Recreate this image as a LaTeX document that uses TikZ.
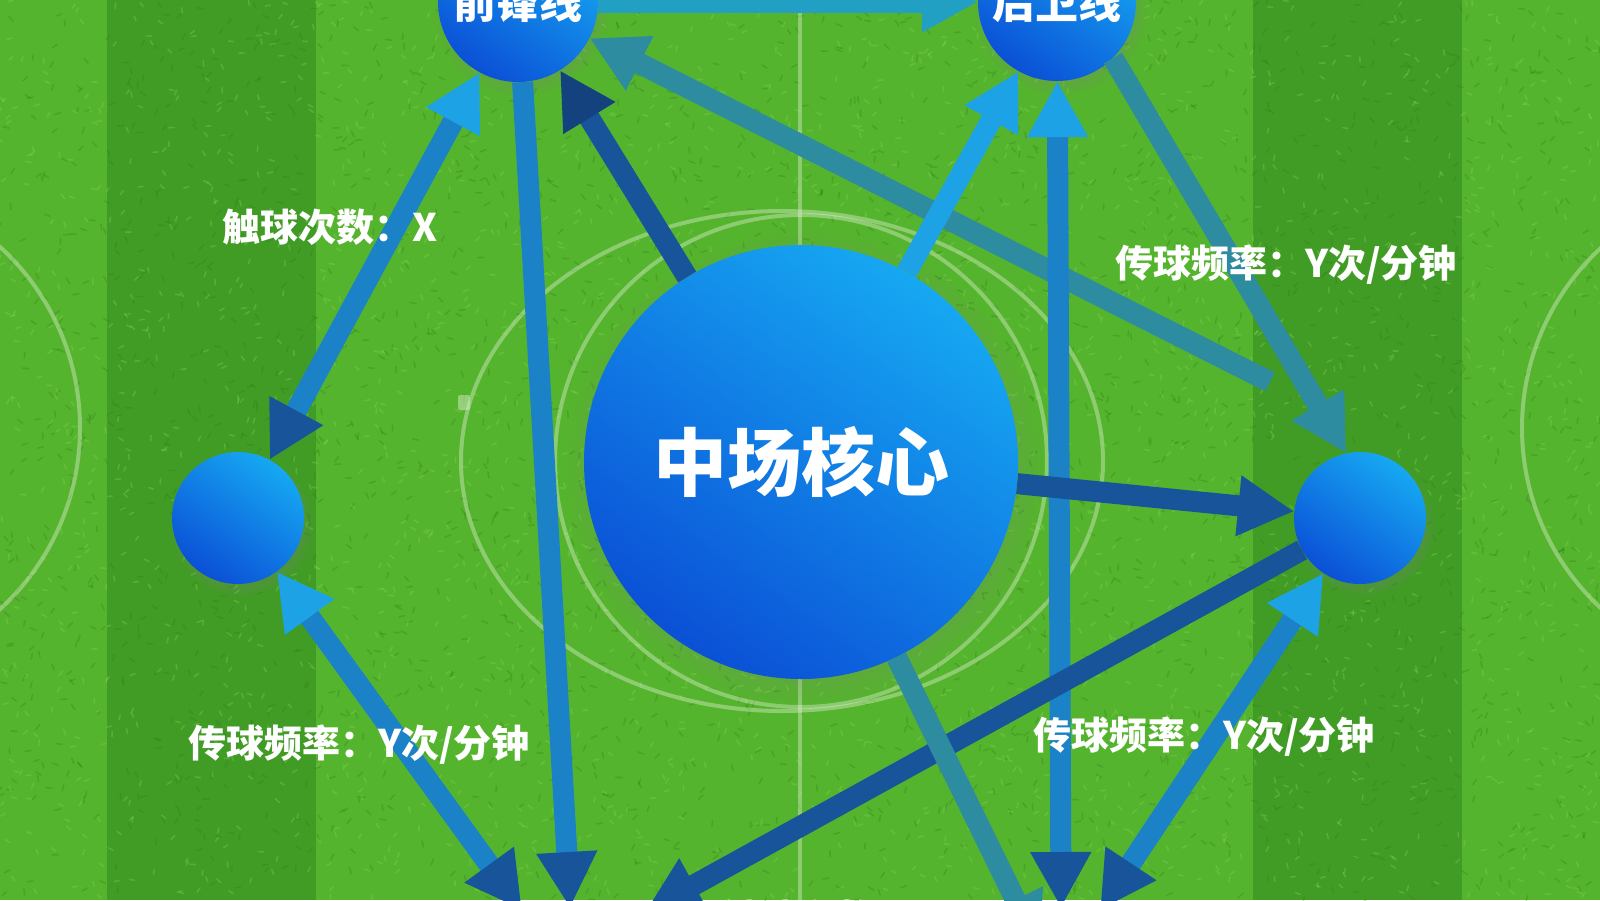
\documentclass[tikz,border=0pt]{standalone}
\usepackage{fontspec}
\newfontfamily\cjk{Noto Sans CJK SC}
\usetikzlibrary{arrows.meta,shadows}
\definecolor{grassLight}{HTML}{55B42D}
\definecolor{grassDark}{HTML}{419C25}
\definecolor{bladeDark}{HTML}{2E7A18}
\definecolor{bladeLight}{HTML}{8AD85A}
\definecolor{nodeTop}{HTML}{16A8F2}
\definecolor{nodeBot}{HTML}{0B50D6}
\definecolor{cLight}{HTML}{1EA2E6}
\definecolor{cMid}{HTML}{1B82C8}
\definecolor{cDark}{HTML}{17549A}
\definecolor{cNavy}{HTML}{14427F}
\definecolor{cTeal}{HTML}{2E8CA0}
\definecolor{cTop}{HTML}{22A0C4}
\definecolor{pitch}{HTML}{E4F0D8}
\tikzset{
  Big/.tip={Triangle[length=56pt,width=57pt]},
  hub/.style={circle, inner sep=0pt, top color=nodeTop, bottom color=nodeBot,
    shading angle=-35, text=white,
    circular drop shadow={shadow xshift=3pt, shadow yshift=-6pt, opacity=0.22}},
  link/.style={line width=21pt, -Big},
  lbl/.style={text=white, inner sep=0pt, font=\cjk\bfseries\fontsize{38}{40}\selectfont},
  pitchline/.style={draw=pitch, draw opacity=0.4, line width=4pt},
  blade/.style={line width=1.6pt, line cap=round},
}
\begin{document}
\begin{tikzpicture}[x=1pt,y=-1pt]
\useasboundingbox (0,0) rectangle (1600,900);
\clip (0,0) rectangle (1600,900);
% grass
\fill[grassLight] (0,0) rectangle (1600,900);
\fill[grassDark] (107,0) rectangle (316,900);
\fill[grassDark] (1253,0) rectangle (1462,900);
\pgfmathsetseed{11}
\foreach \i in {1,...,2600}{
  \pgfmathsetmacro\xx{rnd*1600}
  \pgfmathsetmacro\yy{rnd*900}
  \pgfmathsetmacro\aa{rnd*360}
  \draw[blade, bladeDark, draw opacity=0.28] (\xx,\yy) -- ++(\aa:6);
}
\foreach \i in {1,...,2600}{
  \pgfmathsetmacro\xx{rnd*1600}
  \pgfmathsetmacro\yy{rnd*900}
  \pgfmathsetmacro\aa{rnd*360}
  \draw[blade, bladeLight, draw opacity=0.3] (\xx,\yy) -- ++(\aa:5);
}
% pitch markings
\draw[pitchline] (800,0) -- (800,900);
\draw[pitchline] (801,461) circle [radius=246];
\draw[pitchline] (782,461) ellipse [x radius=321, y radius=250];
\fill[pitch, opacity=0.45, rounded corners=2pt] (458,395) rectangle (470,410);
\draw[pitchline] (-165,428) circle [radius=245];
\draw[pitchline] (1767,428) circle [radius=245];
% nodes
\node[hub, minimum size=160pt, font=\cjk\bfseries\fontsize{43}{45}\selectfont] (fwd) at (518,2) {前锋线};
\node[hub, minimum size=158pt, font=\cjk\bfseries\fontsize{43}{45}\selectfont] (back) at (1057,2) {后卫线};
\node[hub, minimum size=434pt, font=\cjk\bfseries\fontsize{74}{78}\selectfont] (mid) at (801,462) {中场核心};
\node[hub, minimum size=132pt] (left) at (238,518) {};
\node[hub, minimum size=132pt] (right) at (1360,518) {};
% free ends
\coordinate (t5) at (1270,382);
\coordinate (b3) at (570,908);
\coordinate (b7) at (1061,908);
\coordinate (b10) at (645,912);
\coordinate (b11) at (1100,910);
\coordinate (b12) at (522,910);
\coordinate (b13) at (1040,950);
% connectors
\draw[link, color=cTop] (fwd) -- (back);
\draw[link, color=cMid, {Big[color=cDark]}-{Big[color=cLight]}] (left) -- (fwd);
\draw[link, color=cMid, -{Big[color=cDark]}] (fwd) -- (b3);
\draw[link, color=cDark, -{Big[color=cNavy]}] (mid) -- (fwd);
\draw[link, color=cTeal] (t5) -- (fwd);
\draw[link, color=cLight] (mid) -- (back);
\draw[link, color=cMid, {Big[color=cDark]}-{Big[color=cLight]}] (b7) -- (back);
\draw[link, color=cTeal] (back.-45) -- (right.102);
\draw[link, color=cDark] (mid) -- (right);
\draw[link, color=cDark] (right) -- (b10);
\draw[link, color=cMid, {Big[color=cLight]}-{Big[color=cDark]}] (right) -- (b11);
\draw[link, color=cMid, {Big[color=cLight]}-{Big[color=cDark]}] (left) -- (b12);
\draw[link, color=cTeal] (mid) -- (b13);
% labels
\node[lbl] (l1) at (330,227) {触球次数：X};
\node[lbl] (l2) at (1286,265) {传球频率：Y次/分钟};
\node[lbl] (l3) at (359,745) {传球频率：Y次/分钟};
\node[lbl] (l4) at (1204,737) {传球频率：Y次/分钟};
\node[lbl] (l5) at (830,918) {触球次数：X};
\end{tikzpicture}
\end{document}
